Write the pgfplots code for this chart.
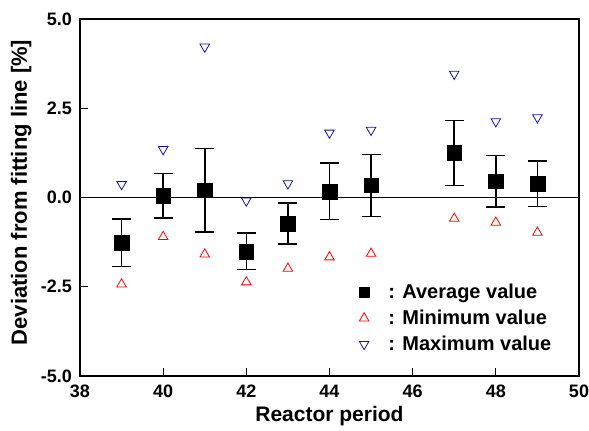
\documentclass[border=0pt]{standalone}
\usepackage{fontspec}
\setmainfont{Liberation Sans}
\usepackage{pgfplots}
\pgfplotsset{compat=1.18}

\definecolor{maxblue}{RGB}{20,20,150}
\definecolor{minred}{RGB}{255,0,0}

\begin{document}
\begin{tikzpicture}
\begin{axis}[
  name=ax,
  scale only axis,
  width=499pt, height=357pt,
  xmin=38, xmax=50, ymin=-5, ymax=5,
  xtick={38,40,...,50},
  ytick={-5,-2.5,0,2.5,5},
  /pgf/number format/assume math mode=true,
  tick label style={font=\fontsize{18}{21}\selectfont\bfseries},
  xticklabel style={anchor=base, yshift=-22pt, inner sep=0pt},
  yticklabel style={anchor=east, inner sep=0pt, xshift=-8pt,
    /pgf/number format/fixed, /pgf/number format/fixed zerofill,
    /pgf/number format/precision=1},
  tick pos=left,
  tick align=inside,
  major tick length=8pt,
  tick style={line width=1.3pt, black},
  axis line style={line width=1.5pt},
  xlabel={Reactor period},
  ylabel={Deviation from fitting line [\%]},
  xlabel style={font=\fontsize{21}{25}\selectfont\bfseries, at={(axis description cs:0.5,0)}, anchor=base, yshift=-46pt},
  ylabel style={font=\fontsize{22}{26}\selectfont\bfseries, at={(axis description cs:-0.118,0.514)}, anchor=center},
  legend style={draw=none, fill=none, font=\fontsize{20}{24}\selectfont\bfseries,
    at={(axis description cs:0.955,0.055)}, anchor=south east,
    cells={anchor=west}, column sep=17pt, row sep=6pt},
  clip=false,
]
\addplot[black, line width=1.3pt, forget plot] coordinates {(38,0) (50,0)};

\addplot[only marks, mark=square*, mark size=7.3pt, black,
  legend image post style={mark size=5.2pt},
  error bars/.cd, y dir=both, y explicit,
  error bar style={line width=1.6pt},
  error mark options={rotate=90, mark size=9.5pt, line width=1.6pt}]
  coordinates {
  (39,-1.27) +- (0,0.66)
  (40,0.05)  +- (0,0.62)
  (41,0.20)  +- (0,1.17)
  (42,-1.51) +- (0,0.51)
  (43,-0.73) +- (0,0.58)
  (44,0.17)  +- (0,0.79)
  (45,0.34)  +- (0,0.87)
  (47,1.25)  +- (0,0.91)
  (48,0.46)  +- (0,0.72)
  (49,0.39)  +- (0,0.64)
};
\addlegendentry{: Average value}

\addplot[only marks, mark=triangle, mark size=5.5pt, minred, mark options={line width=0.8pt}]
  coordinates {
  (39,-2.43) (40,-1.10) (41,-1.59) (42,-2.37) (43,-1.99)
  (44,-1.67) (45,-1.57) (47,-0.59) (48,-0.70) (49,-0.98)
};
\addlegendentry{: Minimum value}

\addplot[only marks, mark=triangle, mark size=5.5pt, maxblue, mark options={rotate=180, line width=0.8pt}]
  coordinates {
  (39,0.37) (40,1.35) (41,4.22) (42,-0.09) (43,0.39)
  (44,1.81) (45,1.89) (47,3.46) (48,2.13) (49,2.24)
};
\addlegendentry{: Maximum value}
\end{axis}
\pgfresetboundingbox
\path ([xshift=-80pt,yshift=-54.3pt]ax.south west) rectangle ([xshift=10pt,yshift=19pt]ax.north east);
\end{tikzpicture}
\end{document}
